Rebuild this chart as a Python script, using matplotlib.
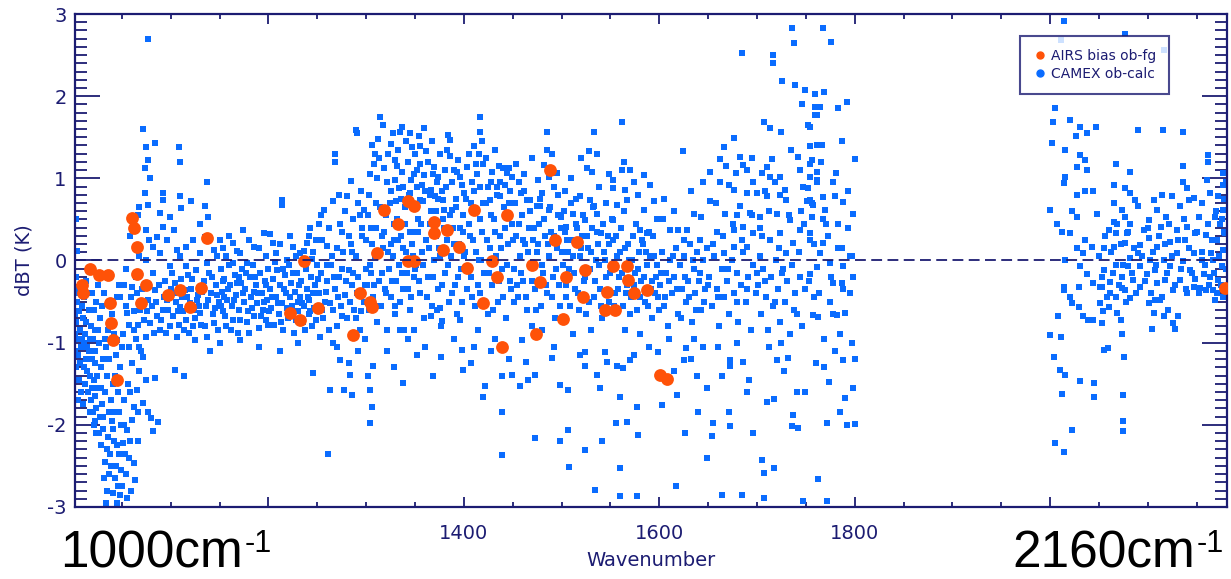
import numpy as np
import matplotlib.pyplot as plt
from matplotlib.lines import Line2D
from matplotlib.ticker import MultipleLocator

# CAMEX ob-calc: (wavenumber, dBT) pairs
camex_1000_1100 = [
    (1003, 0.50), (1004, 0.12), (1003, -0.20), (1005, -0.35), (1004, -0.50), (1006, -0.62),
    (1003, -0.75), (1007, -0.85), (1004, -0.95), (1008, -1.05), (1005, -1.15), (1003, -1.30),
    (1009, -0.30), (1011, -0.45), (1010, -0.70), (1012, -0.90), (1011, -1.00), (1013, -1.20),
    (1014, -1.35), (1012, -1.50), (1016, -1.10), (1017, -1.40), (1015, -1.60), (1018, -1.70),
    (1019, -1.55), (1020, -1.85), (1016, -0.60), (1018, -0.80), (1020, -0.95), (1022, -1.25),
    (1021, -1.45), (1023, -1.65), (1024, -1.80), (1022, -1.95), (1024, -2.10), (1013, -0.25),
    (1019, -0.40), (1021, -0.60), (1024, -0.50), (1008, -1.60), (1010, -1.75), (1006, -1.45),
    (1026, -0.30), (1028, -0.70), (1027, -1.00), (1029, -1.30), (1026, -1.55), (1030, -1.75),
    (1028, -1.90), (1031, -2.05), (1029, -2.25), (1033, -2.45), (1032, -2.65), (1035, -2.80),
    (1034, -2.95), (1037, -2.60), (1038, -2.35), (1036, -2.15), (1040, -1.95), (1039, -1.70),
    (1041, -1.50), (1043, -1.85), (1042, -2.20), (1044, -2.50), (1046, -2.75), (1045, -2.95),
    (1048, -2.85), (1047, -2.35), (1049, -2.00), (1046, -1.60), (1048, -1.30), (1044, -1.15),
    (1034, -1.05), (1036, -0.85), (1040, -0.65), (1045, -0.45), (1047, -0.30), (1032, -0.40),
    (1038, -0.20), (1042, -0.90), (1050, -1.05), (1035, -1.40), (1031, -1.20),
    (1041, -2.83), (1055, -2.89), (1063, -2.67), (1062, -2.47), (1053, -2.35), (1051, -2.22),
    (1055, -2.06), (1060, -1.94), (1065, -1.58), (1075, -1.45), (1084, -1.43), (1072, -1.74),
    (1062, -1.78), (1077, -1.85), (1080, -1.92), (1082, -2.08), (1087, -1.96), (1058, -2.20),
    (1052, -1.70), (1056, -1.50), (1060, -1.25), (1068, -1.35), (1070, -1.10), (1064, -0.95),
    (1048, -0.44), (1055, -0.64), (1062, -0.85), (1068, -1.05), (1075, -0.93), (1079, -0.76),
    (1086, -0.68), (1092, -0.60), (1096, -0.48), (1069, -0.60), (1077, -0.48), (1084, -0.36),
    (1089, -0.85), (1099, -0.80), (1060, -0.32), (1045, -0.97), (1051, -0.89), (1072, -1.17),
    (1077, 2.69), (1072, 1.60), (1075, 1.38), (1084, 1.43), (1077, 1.22), (1074, 1.12),
    (1079, 1.00), (1074, 0.82), (1092, 0.82), (1077, 0.67), (1068, 0.65), (1066, 0.55),
    (1075, 0.37), (1078, 0.25), (1068, 0.05), (1092, 0.74), (1089, 0.58), (1099, 0.53),
    (1092, 0.41), (1086, 0.29), (1096, 0.25), (1082, 0.17), (1075, 0.01), (1089, 0.09),
    (1099, -0.07), (1058, 0.30), (1054, -0.10), (1064, -0.20), (1082, -0.15), (1094, -0.25),
    (1002, -0.40), (1002, -0.65), (1002, -0.90), (1002, -1.10), (1002, -1.45), (1005, -1.70),
    (1007, -1.25), (1009, -0.55), (1009, -0.95), (1011, -1.30), (1013, -0.75), (1014, -1.05),
    (1015, -0.40), (1017, -0.95), (1017, -1.85), (1019, -1.20), (1021, -2.00), (1023, -0.85),
    (1023, -1.10), (1025, -1.40), (1026, -0.85), (1027, -2.10), (1029, -1.55), (1030, -0.55),
    (1031, -1.90), (1033, -1.60), (1033, -0.95), (1035, -2.30), (1037, -1.85), (1037, -1.20),
    (1039, -2.50), (1041, -2.05), (1043, -1.40), (1043, -2.65), (1045, -2.25), (1047, -1.85),
    (1049, -2.55), (1050, -2.75), (1052, -2.00), (1054, -2.60), (1057, -2.40), (1059, -2.80),
    (1058, -1.60), (1057, -1.05), (1066, -1.85), (1066, -2.20),
    (1052, -0.30), (1054, -0.55), (1057, -0.78), (1059, -0.45), (1062, -0.62), (1065, -0.40),
    (1066, -0.78), (1071, -0.35), (1073, -0.72), (1076, -0.62), (1078, -0.30), (1081, -0.55),
    (1083, -0.88), (1085, -0.50), (1088, -0.30), (1090, -0.72), (1093, -0.45), (1095, -0.88),
    (1097, -0.60), (1100, -0.35),
]

camex_1100_1300 = [
    (1103, 0.37), (1106, 0.13), (1109, 0.05), (1111, 0.64), (1109, 0.78), (1108, 1.38),
    (1109, 1.20), (1137, 0.96), (1121, 0.72), (1135, 0.66), (1138, 0.53), (1130, 0.45),
    (1123, 0.25), (1135, 0.29), (1116, 0.17), (1130, 0.09), (1144, 0.13), (1147, 0.05),
    (1137, -0.03), (1150, 0.25), (1116, -0.07),
    (1103, -0.40), (1109, -0.56), (1116, -0.72), (1123, -0.80), (1130, -0.64), (1137, -0.93),
    (1144, -0.76), (1106, -0.93), (1115, -0.36), (1127, -0.48), (1133, -0.32), (1125, -0.97),
    (1140, -1.10), (1104, -1.33), (1114, -1.41),
    (1101, -0.15), (1104, -0.28), (1107, -0.62), (1110, -0.22), (1112, -0.45), (1114, -0.85),
    (1118, -0.18), (1120, -0.52), (1121, -0.35), (1124, -0.60), (1126, -0.12), (1128, -0.42),
    (1131, -0.78), (1134, -0.25), (1136, -0.55), (1139, -0.15), (1141, -0.40), (1143, -0.65),
    (1146, -0.30), (1148, -0.85), (1149, -0.50),
    (1102, -0.68), (1105, -0.50), (1108, -0.78), (1111, -0.35), (1113, -0.62), (1117, -0.45),
    (1119, -0.88), (1122, -0.22), (1125, -0.70), (1129, -0.55), (1132, -0.38), (1135, -0.80),
    (1138, -0.48), (1142, -0.20), (1145, -0.58), (1147, -0.42),
    (1151, -0.10), (1152, -0.38), (1154, -0.62), (1155, -0.22), (1157, -0.80), (1158, -0.48),
    (1160, -0.05), (1161, -0.30), (1163, -0.55), (1164, -0.72), (1166, -0.18), (1167, -0.42),
    (1169, -0.88), (1170, -0.60), (1172, -0.28), (1173, -0.10), (1175, -0.50), (1176, -0.35),
    (1178, -0.75), (1179, -0.62), (1181, -0.20), (1182, -0.45), (1184, -0.05), (1185, -0.68),
    (1187, -0.30), (1188, -0.52), (1190, -0.82), (1191, -0.15), (1193, -0.40), (1194, -0.60),
    (1196, -0.25), (1197, -0.72), (1199, -0.48), (1200, -0.10),
    (1151, -0.55), (1153, -0.25), (1156, -0.68), (1159, -0.35), (1162, -0.85), (1165, -0.48),
    (1168, -0.28), (1171, -0.72), (1174, -0.40), (1177, -0.15), (1180, -0.88), (1183, -0.58),
    (1186, -0.20), (1189, -0.40), (1192, -0.68), (1195, -0.50), (1198, -0.30), (1155, -0.45),
    (1170, -0.20), (1185, -0.38), (1200, -0.78),
    (1202, -0.35), (1203, -0.58), (1205, -0.22), (1206, -0.78), (1208, -0.45), (1209, -0.12),
    (1211, -0.65), (1212, -0.30), (1214, -0.52), (1215, -0.85), (1217, -0.18), (1218, -0.40),
    (1220, -0.70), (1221, -0.05), (1223, -0.28), (1224, -0.55), (1226, -0.88), (1227, -0.38),
    (1229, -0.15), (1230, -0.62), (1232, -0.45), (1233, -0.25), (1235, -0.75), (1236, -0.55),
    (1238, -0.10), (1239, -0.35), (1241, -0.65), (1242, -0.48), (1244, -0.20), (1245, -0.80),
    (1247, -0.58), (1248, -0.30), (1250, -0.05),
    (1201, -0.62), (1204, -0.45), (1207, -0.02), (1210, -0.52), (1213, -0.75), (1216, -0.35),
    (1219, -0.58), (1222, -0.45), (1225, -0.15), (1228, -0.72), (1231, -0.30), (1234, -0.52),
    (1237, -0.85), (1240, -0.45), (1243, -0.62), (1246, -0.40), (1249, -0.72), (1215, -0.10),
    (1230, -0.50), (1245, 0.02),
    (1150, -1.01), (1171, -0.97), (1190, -1.05), (1212, -1.10), (1230, -1.00), (1246, -1.37),
    (1174, 0.37), (1195, 0.33), (1185, 0.17), (1164, 0.21), (1205, 0.21), (1214, 0.74),
    (1214, 0.68), (1225, 0.17), (1232, 0.09), (1239, 0.21), (1249, 0.25), (1171, 0.09),
    (1157, 0.05), (1198, 0.05), (1208, 0.09), (1219, 0.01), (1178, -0.03), (1164, -0.03),
    (1153, 0.15), (1160, 0.30), (1168, 0.12), (1180, 0.25), (1190, 0.15), (1202, 0.32),
    (1212, 0.20), (1222, 0.30), (1228, 0.05), (1236, 0.12), (1243, 0.40), (1255, 0.25),
    (1265, 0.05), (1273, 0.45), (1285, 0.10), (1294, 0.55),
    (1252, -0.40), (1254, -0.15), (1256, -0.70), (1258, -0.50), (1260, -0.25), (1262, -0.85),
    (1264, -0.05), (1266, -0.60), (1268, -0.35), (1270, -0.80), (1272, -0.20), (1274, -0.55),
    (1276, 0.10), (1278, -0.42), (1280, -0.70), (1282, -0.12), (1284, 0.20), (1286, -0.30),
    (1288, -0.60), (1290, 0.05), (1292, -0.20), (1294, -0.85), (1296, 0.30), (1298, -0.50),
    (1300, -0.10),
    (1251, -0.22), (1255, -0.60), (1259, -0.38), (1263, -0.52), (1267, -0.20), (1271, -0.45),
    (1275, -0.68), (1279, -0.25), (1283, -0.50), (1287, -0.15), (1291, -0.40), (1295, -0.62),
    (1299, -0.30), (1260, -0.05), (1275, -0.10), (1290, -0.70),
    (1241, 0.30), (1252, 0.45), (1254, 0.55), (1257, 0.62), (1262, 0.40), (1266, 0.72),
    (1268, 1.30), (1268, 1.20), (1272, 0.80), (1275, 0.35), (1278, 0.60), (1280, 0.78),
    (1284, 0.97), (1287, 0.50), (1290, 1.59), (1291, 1.55), (1292, 0.70), (1295, 0.85),
    (1296, 0.40), (1298, 0.62), (1300, 0.25), (1246, 0.10), (1260, 0.18), (1270, 0.15),
    (1282, 0.30),
    (1263, -1.58), (1261, -2.35), (1277, -1.58), (1285, -1.64), (1283, -1.39), (1273, -1.21),
    (1282, -1.25), (1266, -1.01), (1253, -0.93), (1270, -1.05), (1304, -1.98), (1306, -1.78),
    (1304, -1.58), (1302, -1.41), (1307, -1.29), (1292, -1.10), (1299, -0.95),
]

camex_1300_1500 = [
    (1314, 1.75), (1317, 1.65), (1306, 1.40), (1309, 1.30), (1308, 1.18), (1313, 1.25),
    (1325, 1.42), (1333, 1.35), (1330, 1.22), (1335, 1.57), (1337, 1.63), (1345, 1.55),
    (1347, 1.38), (1311, 1.00), (1321, 0.95), (1325, 0.85), (1334, 0.88), (1337, 1.08),
    (1349, 1.05), (1352, 0.90), (1331, 0.72), (1340, 0.65), (1303, 0.80), (1310, 0.70),
    (1320, 0.55), (1328, 0.45), (1345, 0.35), (1353, 0.50), (1305, 0.40), (1316, 0.30),
    (1325, 0.20), (1338, 0.15), (1348, 0.05),
    (1304, 1.05), (1312, 1.48), (1318, 1.12), (1322, 1.30), (1327, 1.55), (1329, 0.98),
    (1332, 1.15), (1336, 0.75), (1341, 1.45), (1343, 1.20), (1346, 0.98), (1350, 1.30),
    (1354, 1.52), (1357, 0.92), (1363, 1.20), (1367, 1.45), (1370, 0.78), (1374, 1.02),
    (1376, 1.30), (1380, 0.62), (1388, 0.95), (1394, 1.22), (1398, 0.92), (1405, 1.30),
    (1413, 1.05), (1419, 1.45), (1423, 1.25), (1428, 0.95), (1432, 1.35), (1436, 1.15),
    (1442, 0.92), (1449, 1.02), (1456, 0.95), (1462, 1.05), (1470, 1.25), (1476, 0.98),
    (1490, 1.30), (1496, 0.80),
    (1301, -0.30), (1303, -0.60), (1305, -0.15), (1307, -0.45), (1309, 0.05), (1311, -0.75),
    (1313, -0.25), (1315, -0.55), (1317, 0.15), (1319, -0.35), (1321, -0.85), (1323, -0.10),
    (1325, -0.45), (1327, 0.05), (1329, -0.65), (1331, -0.25), (1333, 0.25), (1335, -0.50),
    (1337, -0.15), (1339, -0.85), (1341, 0.10), (1343, -0.35), (1345, -0.60), (1347, 0.20),
    (1349, -0.20),
    (1302, 0.55), (1304, -0.05), (1306, 0.20), (1308, -0.30), (1310, 0.40), (1312, -0.55),
    (1314, 0.65), (1316, -0.15), (1318, 0.35), (1320, -0.40), (1322, 0.10), (1324, 0.70),
    (1326, -0.25), (1328, 0.25), (1330, -0.55), (1332, 0.50), (1334, -0.05), (1336, 0.30),
    (1338, -0.35), (1340, 0.45), (1342, -0.15), (1344, 0.80), (1346, -0.45), (1348, 0.35),
    (1350, -0.10),
    (1338, -1.49), (1335, -0.85), (1343, -0.95), (1321, -1.10), (1352, -1.15), (1328, -1.30),
    (1359, 1.61), (1355, 1.39), (1361, 1.33), (1368, 1.05), (1372, 0.95), (1384, 1.53),
    (1386, 1.47), (1383, 1.35), (1386, 1.27), (1390, 1.10), (1381, 1.10), (1396, 1.02),
    (1378, 0.85), (1365, 0.80), (1392, 0.75), (1358, 0.72), (1371, 0.60), (1399, 0.55),
    (1388, 0.62), (1369, 1.14), (1355, 1.18), (1352, 1.10), (1359, 1.04), (1393, 1.08),
    (1338, 0.90), (1345, 0.82), (1355, 0.74), (1366, 0.86), (1379, 0.74), (1400, 0.82),
    (1351, -0.05), (1353, 0.35), (1355, -0.40), (1357, 0.10), (1359, -0.70), (1361, 0.25),
    (1363, -0.20), (1365, 0.45), (1367, -0.55), (1369, 0.00), (1371, 0.30), (1373, -0.35),
    (1375, 0.15), (1377, -0.80), (1379, 0.50), (1381, -0.15), (1383, 0.25), (1385, -0.50),
    (1387, 0.05), (1389, 0.40), (1391, -0.30), (1393, -0.65), (1395, 0.20), (1397, -0.10),
    (1399, 0.35),
    (1352, 0.65), (1354, -0.25), (1356, 0.45), (1358, -0.05), (1360, 0.85), (1362, -0.45),
    (1364, 0.15), (1366, 0.60), (1368, -0.20), (1370, 0.35), (1372, -0.60), (1374, 0.75),
    (1376, 0.05), (1378, -0.30), (1380, 0.40), (1382, 0.90), (1384, -0.05), (1386, 0.55),
    (1388, -0.40), (1390, 0.20), (1392, 0.65), (1394, -0.20), (1396, 0.40), (1398, -0.50),
    (1400, 0.05),
    (1377, -1.17), (1399, -1.33), (1407, -1.25), (1360, -1.05), (1368, -1.40), (1390, -0.95),
    (1349, -0.85), (1366, -0.68), (1376, -0.58), (1378, -0.74), (1396, -0.72), (1398, -1.09),
    (1417, 1.75), (1417, 1.57), (1410, 1.39), (1415, 1.30), (1412, 1.18), (1420, 1.18),
    (1403, 1.14), (1429, 1.08), (1440, 1.12), (1446, 1.12), (1453, 1.18), (1437, 0.96),
    (1444, 1.06), (1447, 0.85), (1425, 0.90), (1408, 0.95), (1434, 0.80), (1407, 0.70),
    (1417, 0.90), (1427, 0.74), (1437, 0.78), (1448, 0.70),
    (1401, 0.10), (1403, -0.35), (1405, 0.45), (1407, -0.20), (1409, 0.25), (1411, -0.55),
    (1413, 0.60), (1415, 0.00), (1417, -0.40), (1419, 0.35), (1421, -0.15), (1423, 0.70),
    (1425, -0.65), (1427, 0.15), (1429, -0.30), (1431, 0.50), (1433, 0.05), (1435, -0.50),
    (1437, 0.30), (1439, -0.10), (1441, 0.65), (1443, -0.70), (1445, 0.20), (1447, -0.25),
    (1449, 0.45),
    (1402, 0.75), (1404, -0.10), (1406, 0.30), (1408, -0.45), (1410, 0.85), (1412, 0.10),
    (1414, -0.30), (1416, 0.50), (1418, 0.00), (1420, 0.70), (1422, -0.50), (1424, 0.25),
    (1426, -0.15), (1428, 0.55), (1430, -0.60), (1432, 0.35), (1434, 0.90), (1436, -0.25),
    (1438, 0.15), (1440, -0.45), (1442, 0.40), (1444, -0.05), (1446, 0.70), (1448, -0.35),
    (1450, 0.25),
    (1414, -0.85), (1422, -1.53), (1420, -1.66), (1439, -1.84), (1439, -2.37), (1428, -1.10),
    (1446, -1.20), (1432, -0.95), (1410, -1.05), (1439, -1.41), (1449, -1.39),
    (1485, 1.57), (1485, 1.35), (1482, 1.16), (1495, 1.06), (1487, 1.02), (1492, 0.90),
    (1480, 0.82), (1465, 0.74), (1475, 0.66), (1487, 0.62), (1499, 0.53), (1458, 0.82),
    (1468, 0.74), (1478, 0.66),
    (1451, -0.10), (1453, 0.30), (1455, -0.45), (1457, 0.05), (1459, 0.55), (1461, -0.25),
    (1463, 0.20), (1465, -0.60), (1467, 0.40), (1469, -0.05), (1471, 0.25), (1473, -0.35),
    (1475, 0.10), (1477, 0.45), (1479, -0.55), (1481, -0.15), (1483, 0.30), (1485, -0.40),
    (1487, 0.05), (1489, 0.35), (1491, -0.20), (1493, -0.70), (1495, 0.15), (1497, -0.30),
    (1499, 0.40),
    (1452, 0.70), (1454, -0.30), (1456, 0.45), (1458, -0.15), (1460, 0.25), (1462, 0.85),
    (1464, -0.45), (1466, 0.10), (1468, 0.60), (1470, -0.25), (1472, 0.40), (1474, -0.60),
    (1476, 0.20), (1478, 0.75), (1480, -0.05), (1482, 0.50), (1484, -0.30), (1486, 0.20),
    (1488, 0.65), (1490, -0.45), (1492, 0.30), (1494, -0.10), (1496, 0.55), (1498, -0.55),
    (1500, 0.10),
    (1451, -0.50), (1459, -0.97), (1464, -1.23), (1466, -1.45), (1457, -1.53), (1473, -1.39),
    (1473, -2.16), (1490, -1.19), (1492, -1.05), (1498, -1.51), (1498, -2.20), (1480, -0.85),
    (1470, -0.80),
]

camex_1500_1700 = [
    (1533, 1.57), (1528, 1.33), (1536, 1.30), (1526, 1.12), (1531, 1.08), (1519, 0.78),
    (1529, 0.74), (1533, 0.66), (1512, 0.57), (1524, 0.49), (1505, 0.41), (1536, 0.57),
    (1540, 0.33),
    (1503, 0.85), (1510, 1.00), (1515, 0.75), (1520, 1.25), (1538, 0.90), (1545, 0.70),
    (1548, 1.05), (1557, 0.68), (1570, 1.10), (1578, 0.80), (1590, 0.92), (1595, 0.72),
    (1501, -0.05), (1503, 0.35), (1505, -0.30), (1507, 0.10), (1509, -0.55), (1511, 0.25),
    (1513, -0.15), (1515, 0.45), (1517, -0.40), (1519, 0.05), (1521, 0.30), (1523, -0.25),
    (1525, -0.65), (1527, 0.15), (1529, -0.10), (1531, 0.40), (1533, -0.45), (1535, 0.00),
    (1537, 0.20), (1539, -0.35), (1541, -0.70), (1543, 0.10), (1545, -0.20), (1547, 0.30),
    (1549, -0.50),
    (1502, 0.60), (1504, -0.45), (1506, 0.25), (1508, -0.10), (1510, 0.70), (1512, 0.05),
    (1514, -0.35), (1516, 0.40), (1518, -0.60), (1520, 0.15), (1522, 0.55), (1524, -0.20),
    (1526, 0.30), (1528, -0.50), (1530, 0.10), (1532, 0.65), (1534, -0.25), (1536, 0.35),
    (1538, -0.05), (1540, -0.55), (1542, 0.45), (1544, 0.00), (1546, -0.40), (1548, 0.20),
    (1550, -0.15),
    (1507, -1.58), (1507, -2.06), (1508, -2.51), (1519, -1.15), (1524, -1.11), (1524, -1.29),
    (1534, -2.79), (1524, -2.31), (1536, -1.39), (1541, -2.20), (1539, -1.55), (1546, -1.23),
    (1544, -1.11), (1512, -0.90), (1530, -0.85),
    (1562, 1.69), (1564, 1.20), (1562, 1.10), (1553, 0.98), (1574, 0.96), (1584, 1.04),
    (1565, 0.86), (1553, 0.88), (1567, 0.74), (1584, 0.62), (1598, 0.51), (1580, 0.37),
    (1587, 0.33), (1553, 0.49),
    (1551, -0.10), (1553, 0.25), (1555, -0.40), (1557, 0.05), (1559, -0.20), (1561, 0.40),
    (1563, -0.55), (1565, 0.15), (1567, -0.30), (1569, 0.00), (1571, -0.45), (1573, 0.30),
    (1575, -0.15), (1577, -0.60), (1579, 0.10), (1581, -0.25), (1583, 0.20), (1585, -0.50),
    (1587, -0.05), (1589, 0.35), (1591, -0.35), (1593, -0.70), (1595, 0.05), (1597, -0.20),
    (1599, -0.45),
    (1552, 0.50), (1554, -0.55), (1556, 0.30), (1558, -0.35), (1560, 0.10), (1562, -0.15),
    (1564, 0.60), (1566, -0.40), (1568, 0.20), (1570, -0.65), (1572, 0.00), (1574, -0.30),
    (1576, 0.45), (1578, -0.10), (1580, -0.45), (1582, 0.25), (1584, -0.20), (1586, 0.10),
    (1588, -0.55), (1590, 0.05), (1592, -0.25), (1594, 0.30), (1596, -0.40), (1598, -0.05),
    (1600, -0.60),
    (1556, -1.98), (1560, -1.66), (1560, -2.53), (1560, -2.87), (1567, -1.96), (1570, -1.21),
    (1577, -1.78), (1578, -2.13), (1577, -2.87), (1557, -1.29), (1563, -1.31), (1574, -1.15),
    (1589, -1.05), (1599, -1.11), (1580, -0.90), (1565, -0.85),
    (1624, 1.33), (1652, 1.08), (1662, 0.96), (1635, 0.57), (1643, 0.53), (1619, 0.37),
    (1628, 0.37), (1652, 0.72), (1667, 0.57), (1604, 0.51), (1611, 0.37), (1625, 0.25),
    (1642, 0.25), (1659, 0.35),
    (1605, 0.75), (1615, 0.60), (1632, 0.85), (1645, 0.95), (1658, 0.70), (1668, 1.15),
    (1680, 0.55), (1695, 1.25),
    (1601, -0.30), (1603, 0.10), (1605, -0.55), (1607, -0.15), (1609, -0.80), (1611, 0.00),
    (1613, -0.40), (1615, -0.20), (1617, 0.15), (1619, -0.65), (1621, -0.05), (1623, -0.35),
    (1625, 0.05), (1627, -0.50), (1629, -0.25), (1631, 0.20), (1633, -0.75), (1635, -0.10),
    (1637, -0.40), (1639, 0.10), (1641, -0.25), (1643, -0.60), (1645, 0.00), (1647, -0.35),
    (1649, 0.15),
    (1602, -0.15), (1606, -0.45), (1610, -0.25), (1614, 0.05), (1618, -0.35), (1622, -0.70),
    (1626, -0.20), (1630, -0.45), (1634, 0.00), (1638, -0.60), (1642, -0.15), (1646, -0.50),
    (1650, -0.30), (1655, 0.20), (1660, -0.45), (1665, 0.30), (1670, -0.10), (1675, 0.45),
    (1680, -0.50), (1685, 0.25), (1690, -0.35), (1695, 0.55), (1700, -0.15),
    (1603, -1.76), (1618, -1.64), (1617, -2.75), (1626, -2.10), (1625, -1.21), (1627, -1.07),
    (1639, -1.41), (1640, -1.84), (1649, -1.55), (1649, -2.41), (1610, -0.95), (1635, -0.95),
    (1615, -1.35), (1632, -1.20), (1645, -1.05), (1690, -1.60),
    (1685, 2.52), (1676, 1.49), (1666, 1.38), (1662, 1.24), (1683, 1.26), (1686, 1.16),
    (1678, 1.06), (1690, 1.10), (1696, 0.96), (1676, 0.86), (1690, 0.82), (1700, 0.82),
    (1683, 0.66), (1671, 0.92), (1693, 0.58), (1686, 0.41), (1696, 0.33), (1676, 0.37),
    (1676, 0.17), (1690, 0.17), (1666, 0.09),
    (1651, -0.20), (1654, -0.55), (1656, 0.05), (1659, -0.35), (1661, -0.80), (1664, -0.10),
    (1666, -0.45), (1669, -0.25), (1671, -0.65), (1674, 0.00), (1676, -0.40), (1679, -0.15),
    (1681, -0.75), (1684, -0.30), (1686, 0.10), (1689, -0.50), (1691, -0.20), (1694, -0.85),
    (1696, -0.05), (1699, -0.40),
    (1654, -2.14), (1655, -1.98), (1664, -2.85), (1664, -1.41), (1671, -1.84), (1672, -2.02),
    (1685, -2.85), (1672, -1.21), (1672, -1.29), (1686, -1.23), (1696, -2.10), (1660, -1.05),
    (1680, -1.00), (1692, -1.45),
]

camex_1700_1800 = [
    (1736, 2.83), (1738, 2.65), (1716, 2.50), (1716, 2.40), (1726, 2.19), (1707, 1.69),
    (1713, 1.61), (1725, 1.56), (1746, 1.91), (1739, 2.14), (1749, 2.08), (1759, 2.03),
    (1759, 1.87), (1761, 1.77), (1752, 1.65), (1761, 1.41), (1742, 1.26), (1744, 1.10),
    (1754, 1.18), (1761, 1.08), (1761, 0.96), (1747, 0.90), (1752, 0.88), (1724, 1.02),
    (1724, 0.80), (1730, 0.74), (1729, 0.86), (1751, 0.72), (1756, 0.70), (1720, 0.57),
    (1734, 0.49), (1744, 0.37), (1724, 0.33), (1713, 0.25), (1737, 0.21), (1754, 0.25),
    (1730, 0.09), (1705, 1.06), (1710, 1.14), (1713, 1.02), (1715, 1.24), (1708, 0.84),
    (1710, 0.78), (1703, 0.53), (1703, 0.05),
    (1705, 0.30), (1718, 0.95), (1735, 1.35), (1745, 0.60), (1765, 1.20), (1778, 0.95),
    (1793, 0.85),
    (1701, -0.30), (1704, -0.65), (1706, -0.10), (1709, -0.45), (1711, -0.85), (1714, -0.20),
    (1716, -0.55), (1719, 0.00), (1721, -0.35), (1724, -0.75), (1726, -0.15), (1729, -0.50),
    (1731, -0.25), (1734, -0.90), (1736, -0.05), (1739, -0.40), (1741, -0.65), (1744, -0.20),
    (1746, -0.80), (1749, -0.35),
    (1703, 0.40), (1708, -0.25), (1712, 0.60), (1718, -0.50), (1722, 0.15), (1727, -0.10),
    (1733, 0.55), (1738, -0.60), (1743, 0.10), (1748, 0.45), (1753, -0.25), (1758, 0.20),
    (1763, -0.40), (1767, 0.50), (1773, 0.30), (1778, -0.65), (1783, 0.15), (1788, -0.35),
    (1793, 0.40), (1798, -0.20),
    (1705, -2.43), (1707, -2.89), (1707, -2.59), (1717, -2.53), (1710, -1.72), (1717, -1.68),
    (1720, -1.21), (1732, -1.19), (1736, -2.02), (1737, -1.88), (1742, -2.04), (1747, -2.93),
    (1749, -1.60), (1741, -1.60), (1712, -1.05), (1728, -1.35), (1725, -1.00), (1760, -1.25),
    (1780, -1.10),
    (1768, 2.83), (1776, 2.66), (1769, 2.05), (1764, 1.87), (1792, 1.93), (1783, 1.85),
    (1766, 1.40), (1787, 1.46), (1800, 1.24), (1781, 1.06), (1761, 0.98), (1768, 0.77),
    (1780, 0.78), (1788, 0.71), (1798, 0.57), (1770, 0.61), (1757, 0.68), (1771, 0.45),
    (1783, 0.45), (1768, 0.21), (1787, 0.15), (1797, 0.06), (1761, -0.08), (1776, -0.20),
    (1787, -0.27), (1754, 1.63), (1759, 1.77), (1754, 1.39), (1756, 1.22), (1754, 1.02),
    (1754, 0.74), (1756, 0.53), (1754, 0.33), (1764, 0.09), (1775, -0.03), (1754, -0.16),
    (1778, -0.28), (1788, -0.07), (1795, 0.05),
    (1772, -2.93), (1762, -2.66), (1772, -1.98), (1792, -2.00), (1800, -1.99), (1785, -1.84),
    (1774, -1.48), (1798, -1.55), (1790, -1.67), (1769, -1.30), (1788, -1.21), (1800, -1.20),
    (1797, -1.00), (1785, -0.90), (1769, -0.95), (1762, -0.69), (1782, -0.66), (1790, -0.64),
    (1758, -0.45), (1775, -0.50), (1795, -0.40), (1757, -0.66),
]

camex_2000_2180 = [
    (2014, 2.92), (2011, 2.68), (2077, 2.76), (2116, 2.56), (2005, 1.85), (2003, 1.69),
    (2002, 1.43), (2015, 1.35), (2020, 1.71), (2031, 1.63), (2038, 1.55), (2047, 1.63),
    (2026, 1.51), (2031, 1.28), (2036, 1.22), (2027, 1.14), (2038, 1.10), (2015, 1.02),
    (2014, 0.94), (2027, 0.80), (2036, 0.84), (2044, 0.84), (2000, 0.62), (2007, 0.45),
    (2022, 0.60), (2027, 0.53), (2048, 0.57), (2012, 0.35), (2020, 0.33), (2036, 0.25),
    (2027, 0.15), (2043, 0.17), (2015, 0.01), (2034, 0.09), (2031, -0.07), (2038, -0.16),
    (2044, -0.28), (2029, -0.32), (2014, -0.32), (2020, -0.44),
    (2090, 1.59), (2115, 1.59), (2136, 1.57), (2067, 1.18), (2082, 1.08), (2136, 1.15),
    (2162, 1.28), (2162, 1.20), (2136, 0.96), (2140, 0.88), (2114, 0.80), (2125, 0.78),
    (2106, 0.74), (2133, 0.66), (2142, 0.74), (2147, 0.76), (2155, 0.70), (2164, 0.82),
    (2109, 0.62), (2119, 0.53), (2101, 0.49), (2113, 0.41), (2130, 0.37), (2140, 0.41),
    (2152, 0.53), (2148, 0.33), (2159, 0.31), (2138, 0.25), (2123, 0.23), (2109, 0.17),
    (2130, 0.09), (2147, 0.09), (2102, 0.01), (2116, 0.01), (2136, -0.01), (2155, 0.01),
    (2165, 0.09), (2107, -0.11), (2123, -0.07), (2143, -0.11), (2157, -0.16), (2118, -0.24),
    (2133, -0.24), (2148, -0.22), (2164, -0.20), (2126, -0.36), (2140, -0.40), (2153, -0.34),
    (2167, -0.36),
    (2065, 0.92), (2077, 0.88), (2065, 0.70), (2073, 0.62), (2082, 0.82), (2087, 0.74),
    (2090, 0.66), (2077, 0.53), (2065, 0.47), (2082, 0.45), (2060, 0.37), (2067, 0.33),
    (2079, 0.33), (2096, 0.37), (2077, 0.21), (2065, 0.17), (2055, 0.15), (2092, 0.19),
    (2101, 0.27), (2090, 0.09), (2082, 0.03), (2067, -0.05), (2080, -0.07), (2092, -0.07),
    (2055, -0.11), (2099, -0.16), (2073, -0.20), (2085, -0.24), (2061, -0.26), (2051, -0.32),
    (2077, -0.36), (2092, -0.32), (2109, -0.28), (2067, -0.44), (2082, -0.46),
    (2050, 0.05), (2053, -0.20), (2056, 0.30), (2058, -0.45), (2062, 0.10), (2064, -0.15),
    (2068, 0.45), (2070, -0.30), (2072, 0.20), (2075, -0.05), (2078, -0.50), (2080, 0.35),
    (2084, -0.15), (2086, 0.15), (2088, -0.40), (2094, 0.05), (2097, -0.25), (2100, 0.40),
    (2103, -0.40), (2105, 0.10), (2108, -0.05), (2111, 0.30), (2114, -0.45), (2117, 0.20),
    (2120, -0.15), (2122, 0.45), (2125, 0.05), (2128, -0.30), (2131, 0.25), (2134, -0.10),
    (2137, 0.50), (2139, -0.35), (2142, 0.15), (2145, -0.15), (2150, 0.35), (2152, -0.40),
    (2155, 0.10), (2158, -0.05), (2161, 0.45), (2163, -0.30), (2166, 0.25), (2168, -0.15),
    (2170, 0.60), (2173, 0.05), (2175, -0.30), (2178, 0.35), (2180, -0.10), (2178, 0.75),
    (2180, 0.95), (2176, 0.50),
    (2177, 1.06), (2177, 0.92), (2172, 0.78), (2177, 0.62), (2174, 0.45), (2179, 0.33),
    (2171, 0.25), (2177, 0.13), (2167, 0.01), (2176, -0.07), (2172, -0.24), (2160, 0.98),
    (2169, 0.53),
    (2014, -0.36), (2008, -0.68), (2000, -0.91), (2011, -0.93), (2004, -1.17), (2010, -1.33),
    (2015, -1.39), (2012, -1.62), (2022, -2.06), (2005, -2.22), (2014, -2.33), (2030, -1.47),
    (2045, -1.49), (2045, -1.66), (2022, -0.52), (2029, -0.56), (2034, -0.68), (2039, -0.72),
    (2044, -0.72), (2053, -0.32), (2061, -0.40), (2073, -0.34), (2051, -0.52), (2060, -0.56),
    (2068, -0.64), (2072, -0.72), (2073, -0.89), (2054, -0.62), (2053, -0.76), (2055, -1.09),
    (2059, -1.07), (2076, -1.17), (2075, -1.64), (2075, -1.95), (2075, -2.08), (2092, -0.32),
    (2101, -0.52), (2106, -0.64), (2112, -0.48), (2104, -0.83), (2126, -0.76), (2128, -0.83),
    (2107, -0.48), (2121, -0.60), (2131, -0.68), (2116, -0.68), (2147, -0.32), (2159, -0.36),
    (2171, -0.40), (2140, -0.40), (2177, -0.45), (2169, -0.48),
]

# AIRS bias ob-fg
airs_bias = [
    (1017, -0.10), (1027, -0.18), (1036, -0.18), (1009, -0.30), (1010, -0.40), (1038, -0.52),
    (1039, -0.76), (1041, -0.97), (1045, -1.45), (1060, 0.52), (1062, 0.40), (1065, 0.17),
    (1065, -0.16), (1075, -0.30), (1070, -0.52), (1097, -0.42), (1109, -0.36), (1120, -0.56),
    (1131, -0.34), (1137, 0.27), (1236, -0.01), (1222, -0.64), (1232, -0.72), (1251, -0.58),
    (1287, -0.91), (1294, -0.40), (1304, -0.50), (1306, -0.56), (1311, 0.09), (1318, 0.62),
    (1333, 0.45), (1343, -0.01), (1343, 0.72), (1349, 0.66), (1369, 0.47), (1369, 0.33),
    (1383, 0.37), (1379, 0.13), (1395, 0.17), (1410, 0.62), (1444, 0.55), (1488, 1.10),
    (1493, 0.25), (1516, 0.23), (1349, -0.01), (1403, -0.09), (1429, -0.01), (1434, -0.20),
    (1478, -0.26), (1504, -0.20), (1524, -0.11), (1553, -0.07), (1567, -0.07), (1568, -0.24),
    (1587, -0.36), (1546, -0.38), (1470, -0.05), (1420, -0.52), (1439, -1.05), (1474, -0.89),
    (1501, -0.71), (1522, -0.44), (1544, -0.60), (1555, -0.60), (1574, -0.40), (1601, -1.39),
    (1608, -1.44), (2179, -0.34),
]

xtick_labels = {1400: "1400", 1600: "1600", 1800: "1800"}

navy = "#1c1c72"
blue = "#0a6cff"
orange = "#ff5208"

camex = np.array(camex_1000_1100 + camex_1100_1300 + camex_1300_1500
                 + camex_1500_1700 + camex_1700_1800 + camex_2000_2180)
airs = np.array(airs_bias)

fig = plt.figure(figsize=(12.31, 5.79), dpi=100)
ax = fig.add_axes([0.0609, 0.1244, 0.9359, 0.8514])

ax.scatter(camex[:, 0], camex[:, 1], s=16, marker="s", color=blue, linewidths=0, zorder=2)
ax.scatter(airs[:, 0], airs[:, 1], s=85, marker="o", color=orange, linewidths=0, zorder=3)
ax.axhline(0, color=navy, lw=1.3, dashes=(6, 3), zorder=4)

ax.set_xlim(1002, 2181)
ax.set_ylim(-3, 3)

ax.xaxis.set_major_locator(MultipleLocator(200))
ax.xaxis.set_minor_locator(MultipleLocator(50))
ax.yaxis.set_major_locator(MultipleLocator(1))
ax.yaxis.set_minor_locator(MultipleLocator(0.1))
ax.tick_params(which="both", direction="in", top=True, right=True, color=navy, width=1.3,
               labelcolor=navy, labelsize=14)
ax.tick_params(axis="x", which="major", length=7, pad=12)
ax.tick_params(axis="x", which="minor", length=3.5)
ax.tick_params(axis="y", which="major", length=18, pad=6)
ax.tick_params(axis="y", which="minor", length=8.5)
ax.xaxis.set_major_formatter(plt.FuncFormatter(lambda v, p: xtick_labels.get(int(round(v)), "")))
ax.yaxis.set_major_formatter(plt.FuncFormatter(lambda v, p: f"{v:.0f}"))

for sp in ax.spines.values():
    sp.set_color(navy)
    sp.set_linewidth(1.6)

ax.set_xlabel("Wavenumber", color=navy, fontsize=14, labelpad=6)
ax.set_ylabel("dBT (K)", color=navy, fontsize=14, labelpad=10)

handles = [
    Line2D([], [], ls="none", marker="o", color=orange, markersize=5, label="AIRS bias ob-fg"),
    Line2D([], [], ls="none", marker="o", color=blue, markersize=5, label="CAMEX ob-calc"),
]
leg = ax.legend(handles=handles, loc="upper right", bbox_to_anchor=(0.9497, 0.9554),
                fontsize=10, frameon=True, fancybox=False, handletextpad=0.25,
                borderpad=0.95, handlelength=1.0, labelspacing=0.25, borderaxespad=0)
leg.get_frame().set_edgecolor(navy)
leg.get_frame().set_linewidth(1.5)
for t in leg.get_texts():
    t.set_color(navy)

# big wavenumber annotations under the axis ends
base_y = 11 / 579
left_txt = fig.text(60 / 1231, base_y, "1000cm", fontsize=37, family="Liberation Sans",
                    ha="left", va="baseline", color="black")
ax.annotate("-1", xy=(1, 1), xycoords=left_txt, xytext=(1.5, 1), textcoords="offset points",
            fontsize=22, family="Liberation Sans", ha="left", va="top", color="black")
right_txt = fig.text(1195 / 1231, base_y, "2160cm", fontsize=37, family="Liberation Sans",
                     ha="right", va="baseline", color="black")
ax.annotate("-1", xy=(1, 1), xycoords=right_txt, xytext=(1, 1), textcoords="offset points",
            fontsize=22, family="Liberation Sans", ha="left", va="top", color="black")

fig.savefig("out.png", dpi=100)
